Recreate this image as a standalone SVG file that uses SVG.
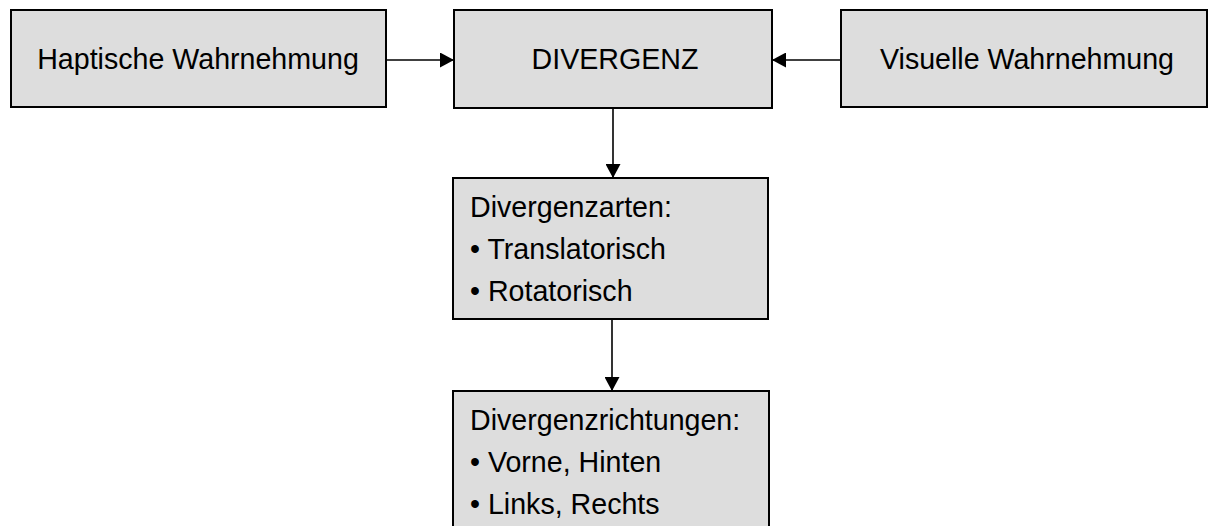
<svg xmlns="http://www.w3.org/2000/svg" width="1208" height="526" viewBox="0 0 1208 526">
<style>
.box{fill:#dddddd;stroke:#000;stroke-width:2}
.t{font-family:"Liberation Sans",Arial,sans-serif;font-size:28.6px;fill:#000}
.c{text-anchor:middle}
.ln{stroke:#000;stroke-width:1.6;fill:none}
</style>
<defs>
<marker id="ah" viewBox="0 0 14 15" refX="14" refY="7.5" markerWidth="14" markerHeight="15" markerUnits="userSpaceOnUse" orient="auto">
<path d="M0,0 L14,7.5 L0,15 Z" fill="#000"/>
</marker>
</defs>
<rect width="1208" height="526" fill="#fff"/>
<g id="connectors">
<line class="ln" x1="387" y1="60" x2="454" y2="60" marker-end="url(#ah)"/>
<line class="ln" x1="841" y1="60" x2="772" y2="60" marker-end="url(#ah)"/>
<line class="ln" x1="613" y1="108" x2="613" y2="178" marker-end="url(#ah)"/>
<line class="ln" x1="612" y1="319" x2="612" y2="391" marker-end="url(#ah)"/>
</g>
<g id="haptisch">
<rect class="box" x="11" y="10" width="375" height="97"/>
<text class="t c" x="198" y="69">Haptische Wahrnehmung</text>
</g>
<g id="divergenz">
<rect class="box" x="454" y="10" width="318" height="98"/>
<text class="t c" x="615" y="69">DIVERGENZ</text>
</g>
<g id="visuell">
<rect class="box" x="841" y="10" width="366" height="97"/>
<text class="t c" x="1027" y="69">Visuelle Wahrnehmung</text>
</g>
<g id="arten">
<rect class="box" x="453" y="178" width="315" height="141"/>
<text class="t" x="470" y="217">Divergenzarten:</text>
<text class="t" x="470" y="259">• Translatorisch</text>
<text class="t" x="470" y="301">• Rotatorisch</text>
</g>
<g id="richtungen">
<rect class="box" x="453" y="391" width="316" height="150"/>
<text class="t" x="470" y="430">Divergenzrichtungen:</text>
<text class="t" x="470" y="472">• Vorne, Hinten</text>
<text class="t" x="470" y="514">• Links, Rechts</text>
</g>
</svg>
